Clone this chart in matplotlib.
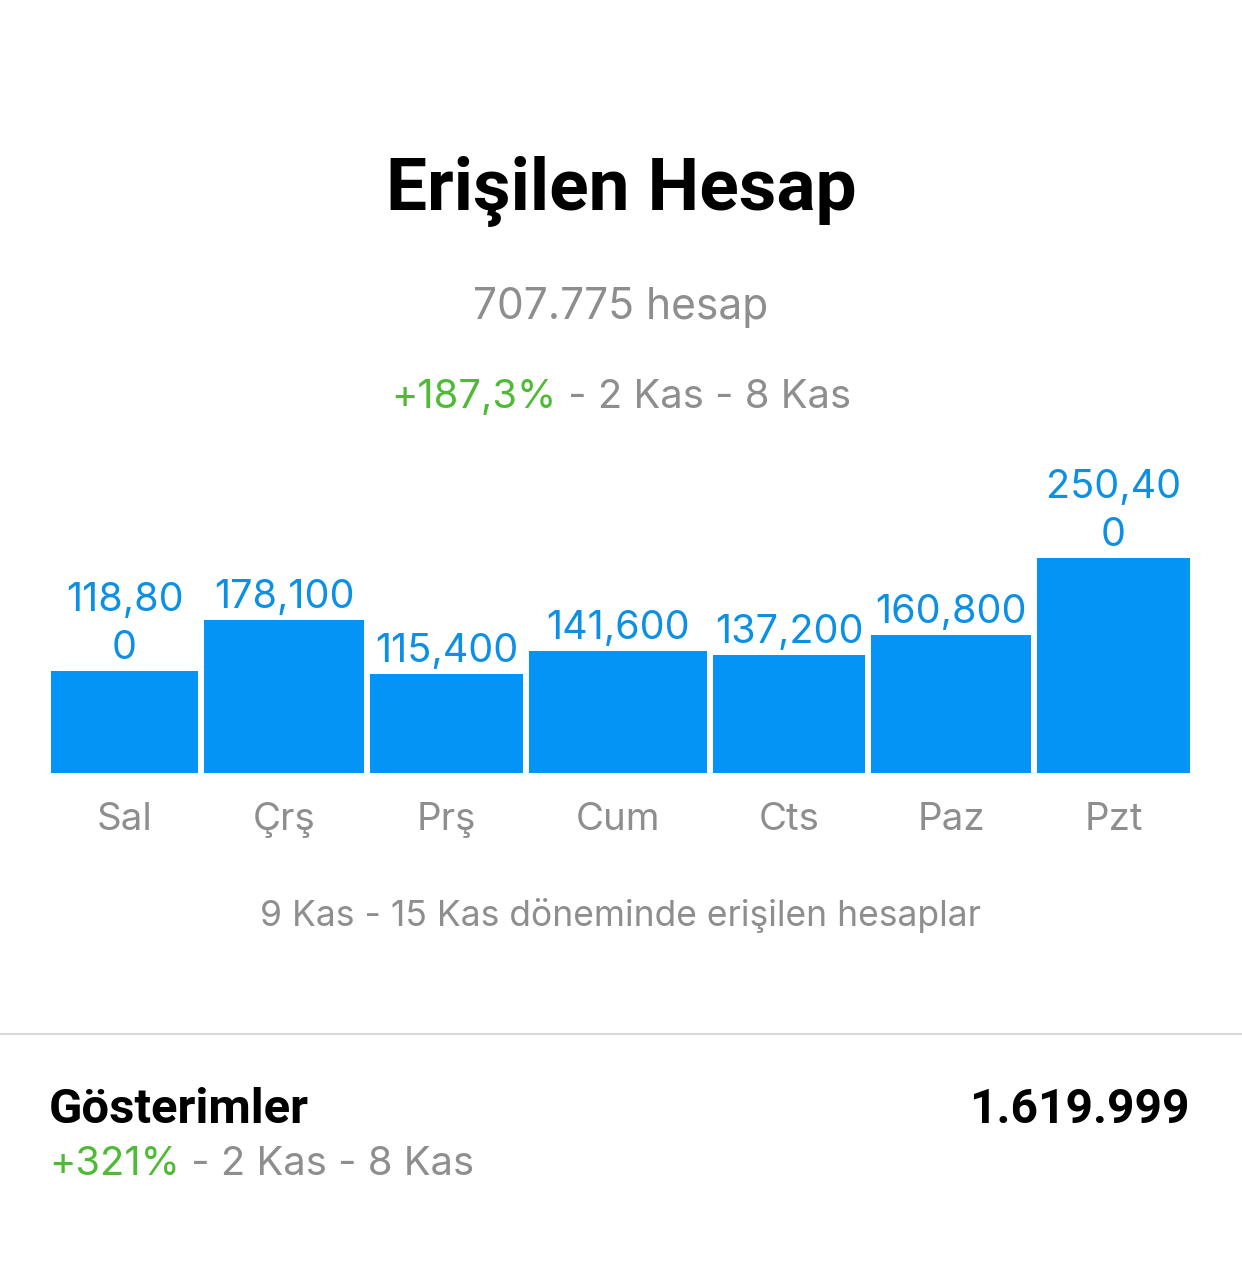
import matplotlib
matplotlib.use("Agg")
import matplotlib.pyplot as plt
import matplotlib.transforms as mtransforms
import numpy as np

# data
days = ["Sal", "Çrş", "Prş", "Cum", "Cts", "Paz", "Pzt"]
reach = [118800, 178100, 115400, 141600, 137200, 160800, 250400]
value_labels = ["118,80\n0", "178,100", "115,400", "141,600", "137,200", "160,800", "250,40\n0"]
title = "Erişilen Hesap"
total_text = "707.775 hesap"
change_text = "+187,3%"
period_text = " - 2 Kas - 8 Kas"
footnote = "9 Kas - 15 Kas döneminde erişilen hesaplar"
impr_title = "Gösterimler"
impr_value = "1.619.999"
impr_change = "+321%"

# layout (pixels)
W, H = 1242, 1263
bar_widths = [147, 160, 153, 178, 152, 160, 153]
gap = 6

BLUE = "#0494f5"
LABEL_BLUE = "#0c90e6"
GREEN = "#4fba35"
GRAY = "#8e8e8e"

BOLD = ["Roboto", "DejaVu Sans"]
REG = ["Inter", "Roboto", "DejaVu Sans"]
plt.rcParams["font.family"] = REG


def fx(x):
    return x / W


def fy(y):
    return 1 - y / H


def pt(px):
    return px * 72 / 100


fig = plt.figure(figsize=(W / 100, H / 100), dpi=100)
fig.patch.set_facecolor("white")

# bar axes: baseline at y=772.5, scale ~0.000857 px per account
ax_top, ax_bottom = 450, 772.5
ax = fig.add_axes([fx(51), fy(ax_bottom), fx(1190) - fx(51), (ax_bottom - ax_top) / H])
lefts = np.concatenate([[0], np.cumsum(np.array(bar_widths[:-1]) + gap)])
centers = lefts + np.array(bar_widths) / 2
ax.bar(lefts, reach, width=bar_widths, align="edge", color=BLUE, linewidth=0)
ax.set_xlim(0, lefts[-1] + bar_widths[-1])
ax.set_ylim(0, (ax_bottom - ax_top) / 0.000857)
ax.axis("off")

for c, v, lab in zip(centers, reach, value_labels):
    ax.annotate(lab, (c, v), xytext=(0, 4), textcoords="offset pixels",
                ha="center", va="bottom", color=LABEL_BLUE, fontsize=pt(39.5),
                linespacing=1.38, multialignment="center")

blend = mtransforms.blended_transform_factory(ax.transData, fig.transFigure)
for c, d in zip(centers, days):
    ax.text(c, fy(830), d, transform=blend, ha="center", va="baseline",
            color=GRAY, fontsize=pt(38.5))

# header
fig.text(0.5, fy(210), title, ha="center", va="baseline", fontsize=pt(73),
         fontweight="bold", color="black", family=BOLD)
fig.text(0.5, fy(319), total_text, ha="center", va="baseline", fontsize=pt(42.5),
         color=GRAY)


def pieces(items, x, y, size, ha="center"):
    texts = [fig.text(0, fy(y), s, color=col, fontsize=size, va="baseline")
             for s, col in items]
    fig.canvas.draw()
    r = fig.canvas.get_renderer()
    widths = [t.get_window_extent(r).width for t in texts]
    start = x - sum(widths) / 2 if ha == "center" else x
    for t, w in zip(texts, widths):
        t.set_x(fx(start))
        start += w


pieces([(change_text, GREEN), (period_text, GRAY)], 621, 408, pt(40))

fig.text(0.5, fy(926), footnote, ha="center", va="baseline", fontsize=pt(35.5),
         color=GRAY)

# separator
fig.add_artist(plt.Line2D([0, 1], [fy(1034), fy(1034)], color="#dadada", linewidth=1.5))

# impressions row
fig.text(fx(49), fy(1123), impr_title, ha="left", va="baseline", fontsize=pt(49),
         fontweight="bold", color="black", family=BOLD)
fig.text(fx(1190), fy(1123), impr_value, ha="right", va="baseline", fontsize=pt(48),
         fontweight="bold", color="black", family=BOLD)
pieces([(impr_change, GREEN), (period_text, GRAY)], 49, 1175, pt(40), ha="left")

fig.savefig("out.png", dpi=100, facecolor="white")
